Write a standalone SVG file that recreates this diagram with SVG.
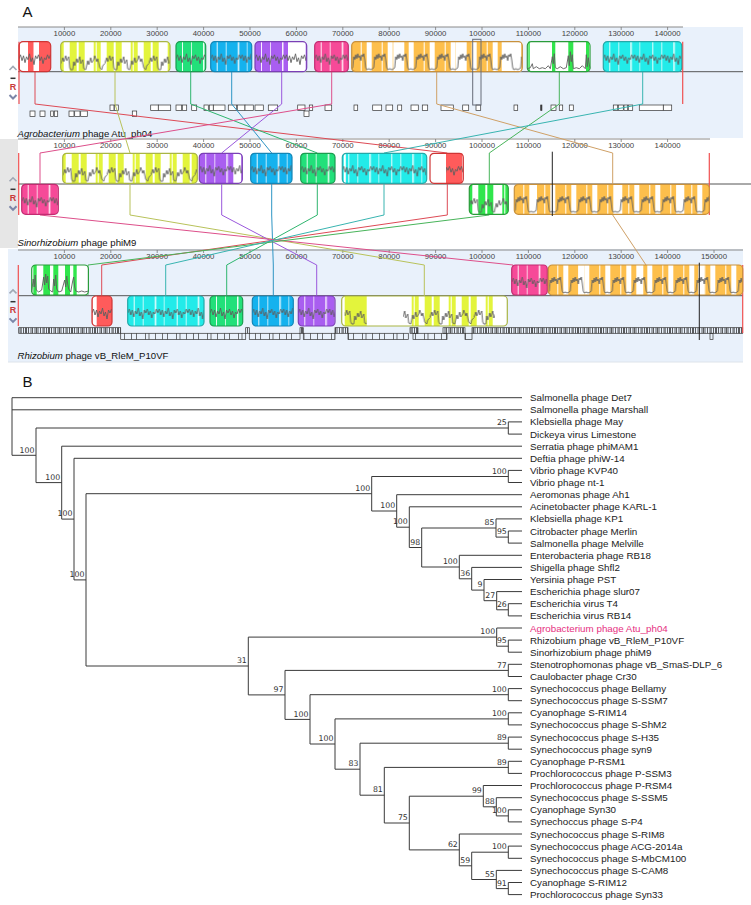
<svg xmlns="http://www.w3.org/2000/svg" xmlns:xlink="http://www.w3.org/1999/xlink" width="751" height="905" viewBox="0 0 751 905">
<style>
text{font-family:"Liberation Sans",Arial,sans-serif}
.big{font-size:15px;fill:#111}
.ruler{font-size:7.8px;fill:#444;text-anchor:middle}
.gname{font-size:9.6px;fill:#111}
.leaf{font-family:"DejaVu Sans",Verdana,sans-serif;font-size:9.8px;fill:#222}
.bs{font-family:"DejaVu Sans",Verdana,sans-serif;font-size:7.8px;fill:#333;text-anchor:end}
.tree{fill:none;stroke:#3a3a3a;stroke-width:1}
.axis{stroke:#8a8a8a;stroke-width:1;fill:none}
.tick{stroke:#777;stroke-width:0.8}
.ctr{stroke:#555;stroke-width:1}
.gene{fill:#fff;stroke:#333;stroke-width:0.7}
.lcb{fill:none;stroke-width:1}
.o{fill:none;stroke-width:1.2}
.w{fill:#fff}
.f-red{fill:#ff5b5b}.o-red{stroke:#cf3535}
.f-yel{fill:#e3f43c}.o-yel{stroke:#a9b545}
.f-sgr{fill:#22e07a}.o-sgr{stroke:#1c9c50}
.f-blu{fill:#14b2ee}.o-blu{stroke:#1486b6}
.f-pur{fill:#a95ef0}.o-pur{stroke:#7a3fb5}
.f-pnk{fill:#f64a98}.o-pnk{stroke:#c22c72}
.f-org{fill:#fdbf4c}.o-org{stroke:#c8913c}
.f-grn{fill:#30e64c}.o-grn{stroke:#2a9c3a}
.f-cyn{fill:#22ebe9}.o-cyn{stroke:#25a8a8}
.l-red{stroke:#dd4a55}.l-yel{stroke:#b8c25a}.l-sgr{stroke:#2fb56e}.l-blu{stroke:#2d95c4}.l-pur{stroke:#9a58dc}.l-pnk{stroke:#dd4f8a}.l-org{stroke:#cfa066}.l-grn{stroke:#48b45a}.l-cyn{stroke:#38b4b0}
.endl{stroke:#f05050;stroke-width:1.2}
.pl{fill:none;stroke:#5e5e5e;stroke-width:0.9}
</style>
<defs>
<pattern id="gapA" patternUnits="userSpaceOnUse" width="43" height="30">
<rect x="6" width="1" height="30" fill="#fff" opacity=".9"/><rect x="15" width="0.8" height="30" fill="#fff" opacity=".9"/><rect x="27" width="1.5" height="30" fill="#fff" opacity=".9"/><rect x="36" width="0.7" height="30" fill="#fff" opacity=".9"/>
</pattern>
<pattern id="gapB" patternUnits="userSpaceOnUse" width="37" height="30">
<rect x="3" width="6" height="30" fill="#fff"/><rect x="16" width="2" height="30" fill="#fff"/><rect x="24" width="9" height="30" fill="#fff"/><rect x="35" width="1" height="30" fill="#fff"/>
</pattern>
<pattern id="prof" patternUnits="userSpaceOnUse" width="30" height="30">
<path class="pl" d="M0,17 L1.5,13 L3,19 L4.5,14 L6,21 L7.5,15 L9,18 L10.5,12 L12,20 L13.5,16 L15,23 L16.5,14 L18,17 L19.5,13 L21,19 L22.5,15 L24,22 L25.5,16 L27,18 L28.5,13 L30,17"/>
</pattern>
<pattern id="profB" patternUnits="userSpaceOnUse" width="44" height="30">
<path class="pl" d="M0,22 L2,16 L3,20 L5,14 L6,19 L8,15 L9,26 L10,28 L12,28 L13,20 L14,24 L16,17 L17,21 L19,15 L20,22 L22,18 L23,27 L25,28 L27,19 L28,23 L30,16 L31,21 L33,18 L34,14 L36,20 L37,17 L39,26 L41,28 L42,24 L44,22"/>
</pattern>
<pattern id="hump" patternUnits="userSpaceOnUse" width="21" height="30">
<rect x="15" width="5" height="30" fill="#fff"/><rect x="9" width="1" height="30" fill="#fff"/>
<path class="pl" d="M0,27 L1,26 L2,15 L3,18 L4,13 L5,17 L6,12 L7,16 L8,14 L9,19 L10,13 L11,15 L12,12 L13,18 L14,26 L15,28 L17,27 L19,28 L21,27"/>
</pattern>
<pattern id="dense" patternUnits="userSpaceOnUse" width="23" height="10">
<path d="M0.5,0V10M2.5,0V10M3.5,0V10M5.5,0V10M8,0V10M9.5,0V10M12,0V10M13.5,0V10M15,0V10M17.5,0V10M20,0V10M21.2,0V10" stroke="#2a2a2a" stroke-width="0.75"/>
</pattern>
<pattern id="sparse" patternUnits="userSpaceOnUse" width="31" height="10">
<path d="M0.5,0V10M7.5,0V10M12.5,0V10M21.5,0V10M25,0V10" stroke="#333" stroke-width="0.7"/>
</pattern>
</defs>

<rect width="751" height="905" fill="#fff"/>

<!-- Panel A backgrounds -->
<g id="panelA-bg">
<rect x="18" y="27" width="725" height="111" fill="#e9f1fb"/>
<rect x="0" y="139" width="18" height="109" fill="#e6e6e6"/>
<rect x="8" y="249" width="735" height="113" fill="#e9f1fb"/>
<line x1="8" y1="362" x2="743" y2="362" stroke="#dde3ea"/>
</g>

<text id="label-A" class="big" x="22.5" y="16.7">A</text>
<text id="label-B" class="big" x="22.5" y="387.3">B</text>

<!-- Rulers -->
<g id="ruler1">
<line class="axis" x1="18" y1="27" x2="683" y2="27"/>
<path class="tick" d="M64.4,27v3M110.8,27v3M157.2,27v3M203.6,27v3M250,27v3M296.4,27v3M342.8,27v3M389.2,27v3M435.6,27v3M482,27v3M528.4,27v3M574.8,27v3M621.2,27v3M667.6,27v3"/>
<text class="ruler" x="64.4" y="36">10000</text><text class="ruler" x="110.8" y="36">20000</text><text class="ruler" x="157.2" y="36">30000</text><text class="ruler" x="203.6" y="36">40000</text><text class="ruler" x="250" y="36">50000</text><text class="ruler" x="296.4" y="36">60000</text><text class="ruler" x="342.8" y="36">70000</text><text class="ruler" x="389.2" y="36">80000</text><text class="ruler" x="435.6" y="36">90000</text><text class="ruler" x="482" y="36">100000</text><text class="ruler" x="528.4" y="36">110000</text><text class="ruler" x="574.8" y="36">120000</text><text class="ruler" x="621.2" y="36">130000</text><text class="ruler" x="667.6" y="36">140000</text>
<line class="ctr" x1="18" y1="71.7" x2="743" y2="71.7"/>
</g>
<g id="ruler2">
<line class="axis" x1="18" y1="139" x2="710" y2="139"/>
<path class="tick" d="M64.4,139v3M110.8,139v3M157.2,139v3M203.6,139v3M250,139v3M296.4,139v3M342.8,139v3M389.2,139v3M435.6,139v3M482,139v3M528.4,139v3M574.8,139v3M621.2,139v3M667.6,139v3"/>
<text class="ruler" x="64.4" y="147.6">10000</text><text class="ruler" x="110.8" y="147.6">20000</text><text class="ruler" x="157.2" y="147.6">30000</text><text class="ruler" x="203.6" y="147.6">40000</text><text class="ruler" x="250" y="147.6">50000</text><text class="ruler" x="296.4" y="147.6">60000</text><text class="ruler" x="342.8" y="147.6">70000</text><text class="ruler" x="389.2" y="147.6">80000</text><text class="ruler" x="435.6" y="147.6">90000</text><text class="ruler" x="482" y="147.6">100000</text><text class="ruler" x="528.4" y="147.6">110000</text><text class="ruler" x="574.8" y="147.6">120000</text><text class="ruler" x="621.2" y="147.6">130000</text><text class="ruler" x="667.6" y="147.6">140000</text>
<line class="ctr" x1="18" y1="184" x2="751" y2="184"/>
</g>
<g id="ruler3">
<line class="axis" x1="18" y1="250" x2="743" y2="250"/>
<path class="tick" d="M64.4,250v3M110.8,250v3M157.2,250v3M203.6,250v3M250,250v3M296.4,250v3M342.8,250v3M389.2,250v3M435.6,250v3M482,250v3M528.4,250v3M574.8,250v3M621.2,250v3M667.6,250v3M714,250v3"/>
<text class="ruler" x="64.4" y="259">10000</text><text class="ruler" x="110.8" y="259">20000</text><text class="ruler" x="157.2" y="259">30000</text><text class="ruler" x="203.6" y="259">40000</text><text class="ruler" x="250" y="259">50000</text><text class="ruler" x="296.4" y="259">60000</text><text class="ruler" x="342.8" y="259">70000</text><text class="ruler" x="389.2" y="259">80000</text><text class="ruler" x="435.6" y="259">90000</text><text class="ruler" x="482" y="259">100000</text><text class="ruler" x="528.4" y="259">110000</text><text class="ruler" x="574.8" y="259">120000</text><text class="ruler" x="621.2" y="259">130000</text><text class="ruler" x="667.6" y="259">140000</text><text class="ruler" x="714" y="259">150000</text>
<line class="ctr" x1="18" y1="295.7" x2="743" y2="295.7"/>
</g>

<!-- Controls -->
<g id="ctl1">
<polyline points="9.5,70 13,66.5 16.5,70" fill="none" stroke="#a0a8b4" stroke-width="1.6"/>
<line x1="10.5" y1="78.3" x2="15.5" y2="78.3" stroke="#333" stroke-width="1.5"/>
<text x="13" y="89.6" font-size="9" font-weight="bold" fill="#c93a3a" text-anchor="middle">R</text>
<polyline points="9.5,95 13,98.5 16.5,95" fill="none" stroke="#7c86a8" stroke-width="2"/>
</g>
<g id="ctl2">
<polyline points="9.5,181.3 13,177.8 16.5,181.3" fill="none" stroke="#a0a8b4" stroke-width="1.6"/>
<line x1="10.5" y1="189.3" x2="15.5" y2="189.3" stroke="#333" stroke-width="1.5"/>
<text x="13" y="200.9" font-size="9" font-weight="bold" fill="#c93a3a" text-anchor="middle">R</text>
<polyline points="9.5,206.3 13,209.8 16.5,206.3" fill="none" stroke="#7c86a8" stroke-width="2"/>
</g>
<g id="ctl3">
<polyline points="9.5,293.4 13,289.9 16.5,293.4" fill="none" stroke="#a0a8b4" stroke-width="1.6"/>
<line x1="10.5" y1="301.7" x2="15.5" y2="301.7" stroke="#333" stroke-width="1.5"/>
<text x="13" y="313" font-size="9" font-weight="bold" fill="#c93a3a" text-anchor="middle">R</text>
<polyline points="9.5,318.4 13,321.9 16.5,318.4" fill="none" stroke="#7c86a8" stroke-width="2"/>
</g>

<!-- Genome names -->
<text id="name-atu" class="gname" x="17.5" y="136.6"><tspan font-style="italic">Agrobacterium</tspan> phage Atu_ph04</text>
<text id="name-phim9" class="gname" x="17.5" y="245.6"><tspan font-style="italic">Sinorhizobium</tspan> phage phiM9</text>
<text id="name-p10vf" class="gname" x="17.5" y="358.8"><tspan font-style="italic">Rhizobium</tspan> phage vB_RleM_P10VF</text>

<!-- Gene features genome 1 -->
<g id="genes-atu" class="gene">
<rect x="110" y="105" width="4" height="5.5"/><rect x="114.3" y="105" width="4" height="5.5"/><rect x="150.7" y="105" width="7.6" height="5.5"/><rect x="158.3" y="105" width="12.4" height="5.5"/><rect x="176" y="105" width="5.7" height="5.5"/><rect x="182.3" y="105" width="4.4" height="5.5"/><rect x="191.7" y="105" width="5" height="5.5"/><rect x="204" y="105" width="4.3" height="5.5"/><rect x="209.3" y="105" width="4" height="5.5"/><rect x="213.3" y="105" width="11.7" height="5.5"/><rect x="228.3" y="105" width="8.4" height="5.5"/><rect x="237.3" y="105" width="7.7" height="5.5"/><rect x="245" y="105" width="8.3" height="5.5"/><rect x="255" y="105" width="8.3" height="5.5"/><rect x="268.3" y="105" width="9.4" height="5.5"/><rect x="297.7" y="105" width="7.3" height="5.5"/><rect x="309.3" y="105" width="3.4" height="5.5"/><rect x="325" y="105" width="6.7" height="5.5"/><rect x="354" y="105" width="3.7" height="5.5"/><rect x="372.7" y="105" width="9" height="5.5"/><rect x="386" y="105" width="6.7" height="5.5"/><rect x="397.7" y="105" width="4" height="5.5"/><rect x="411" y="105" width="7.3" height="5.5"/><rect x="422.3" y="105" width="5.4" height="5.5"/><rect x="441" y="105" width="12.3" height="5.5"/><rect x="462.7" y="105" width="6" height="5.5"/><rect x="476" y="105" width="4.7" height="5.5"/><rect x="514" y="105" width="3.7" height="5.5"/><rect x="540.7" y="105" width="1.2" height="5.5" fill="#333"/><rect x="551" y="105" width="5" height="5.5"/><rect x="559.3" y="105" width="3.4" height="5.5"/><rect x="569.3" y="105" width="4" height="5.5"/><rect x="613.3" y="105" width="4.4" height="5.5"/><rect x="618.3" y="105" width="5" height="5.5"/><rect x="624" y="105" width="3.7" height="5.5"/><rect x="628.3" y="105" width="4.4" height="5.5"/><rect x="639.3" y="105" width="24" height="5.5"/><rect x="663.3" y="105" width="8.4" height="5.5"/>
<rect x="30" y="111" width="5" height="5.5"/><rect x="40" y="111" width="5" height="5.5"/><rect x="50.7" y="111" width="2.6" height="5.5"/><rect x="54.3" y="111" width="3.4" height="5.5"/><rect x="69" y="111" width="5" height="5.5"/><rect x="74.7" y="111" width="5.3" height="5.5"/><rect x="80.7" y="111" width="6.6" height="5.5"/><rect x="132.3" y="111" width="4.4" height="5.5"/><rect x="304" y="111" width="5" height="5.5"/>
</g>

<!-- Gene features genome 3 -->
<g id="genes-p10vf" stroke="#333" stroke-width="0.7">
<g fill="url(#dense)">
<rect x="18.7" y="327.7" width="102" height="5.6"/><rect x="245.7" y="327.7" width="3.6" height="5.6"/><rect x="300" y="327.7" width="3.3" height="5.6"/><rect x="335" y="327.7" width="13" height="5.6"/><rect x="410" y="327.7" width="8" height="5.6"/><rect x="443" y="327.7" width="22" height="5.6"/><rect x="472" y="327.7" width="270.7" height="5.6"/>
</g>
<g fill="url(#sparse)">
<rect x="120.7" y="333.3" width="125" height="6.2"/><rect x="249.3" y="333.3" width="50.7" height="6.2"/><rect x="303.3" y="333.3" width="31.7" height="6.2"/><rect x="348" y="333.3" width="60.3" height="6.2"/><rect x="413" y="333.3" width="34" height="6.2"/><rect x="465" y="333.3" width="7" height="6.2"/><rect x="710" y="333.3" width="3" height="6.2"/>
</g>
</g>

<!-- Genome end markers -->
<g id="ends">
<line class="endl" x1="19" y1="41.7" x2="19" y2="104"/><line class="endl" x1="682.7" y1="41.7" x2="682.7" y2="104"/>
<line class="endl" x1="18.7" y1="153" x2="18.7" y2="215"/><line class="endl" x1="709.3" y1="153" x2="709.3" y2="215"/>
<line class="endl" x1="18.3" y1="265" x2="18.3" y2="326"/><line class="endl" x1="742.7" y1="265" x2="742.7" y2="333"/>
</g>

<!-- Connectors -->
<g id="connectors" class="lcb">
<path class="l-red" d="M35,41.7 V104 L447.3,153 V215 L101.7,265 V296"/>
<path class="l-yel" d="M115,41.7 V104 L130,153 V215 L424.3,265 V296"/>
<path class="l-sgr" d="M190.7,41.7 V104 L317.3,153 V215 L226.7,265 V296"/>
<path class="l-blu" d="M231.7,41.7 V104 L271.7,153 V215 L273.3,265 V296"/>
<path class="l-pur" d="M281.7,41.7 V104 L221.7,153 V215 L316.7,265 V296"/>
<path class="l-pnk" d="M331.7,41.7 V104 L40,153 V215 L513,265 V295"/>
<path class="l-org" d="M436.7,41.7 V104 L612.7,153 V215 L646,265 V295"/>
<path class="l-grn" d="M559.3,41.7 V104 L489.3,153 V215 L88,265 V295"/>
<path class="l-cyn" d="M642.7,41.7 V104 L384,153 V215 L165.7,265 V296"/>
</g>

<!-- Genome 1 blocks -->
<g id="g1-red" transform="translate(19,41.7)"><rect class="f-red" width="31.7" height="30" rx="4"/><rect class="w" x="1" width="8" height="30"/><rect class="w" x="14.5" width="5.5" height="30"/><rect width="31.7" height="30" fill="url(#prof)"/><rect class="o o-red" width="31.7" height="30" rx="4"/></g>
<g id="g1-yel" transform="translate(60.7,41.7)"><rect class="f-yel" width="109.3" height="30" rx="4"/><rect width="109.3" height="30" fill="url(#gapB)"/><rect width="109.3" height="30" fill="url(#profB)"/><rect class="o o-yel" width="109.3" height="30" rx="4"/></g>
<g id="g1-sgr" transform="translate(176,41.7)"><rect class="f-sgr" width="29.7" height="30" rx="4"/><rect width="29.7" height="30" fill="url(#gapA)"/><rect width="29.7" height="30" fill="url(#prof)"/><rect class="o o-sgr" width="29.7" height="30" rx="4"/></g>
<g id="g1-blu" transform="translate(210.7,41.7)"><rect class="f-blu" width="41" height="30" rx="4"/><rect width="41" height="30" fill="url(#gapA)"/><rect width="41" height="30" fill="url(#prof)"/><rect class="o o-blu" width="41" height="30" rx="4"/></g>
<g id="g1-pur" transform="translate(255,41.7)"><rect class="f-pur" width="51.7" height="30" rx="4"/><rect width="51.7" height="30" fill="url(#gapA)"/><rect class="w" x="33" width="17.7" height="30"/><rect width="51.7" height="30" fill="url(#prof)"/><rect class="o o-pur" width="51.7" height="30" rx="4"/></g>
<g id="g1-pnk" transform="translate(314.7,41.7)"><rect class="f-pnk" width="33.6" height="30" rx="4"/><rect width="33.6" height="30" fill="url(#gapA)"/><rect width="33.6" height="30" fill="url(#prof)"/><rect class="o o-pnk" width="33.6" height="30" rx="4"/></g>
<g id="g1-org" transform="translate(351.7,41.7)"><rect class="f-org" width="170.6" height="30" rx="4"/><rect class="w" x="41.6" width="11" height="30"/><rect class="w" x="104.3" width="10" height="30"/><rect class="w" x="150" width="19.6" height="30"/><rect width="170.6" height="30" fill="url(#hump)"/><rect class="o o-org" width="170.6" height="30" rx="4"/></g>
<g id="g1-grn" transform="translate(527.3,41.7)"><rect class="w" width="62.7" height="30" rx="4"/><rect class="f-grn" x="1" width="1.5" height="30"/><rect class="f-grn" x="24.7" width="3.3" height="30"/><rect class="f-grn" x="41" width="5" height="30"/><rect class="f-grn" x="58.7" width="3" height="30"/><path class="pl" d="M0,27 L3,26 L5,22 L6,27 L9,25 L12,27 L15,26 L18,27 L21,24 L23,27 L25,15 L26,22 L27,12 L28,26 L30,27 L33,25 L36,27 L39,26 L41,14 L42,24 L43,10 L44,20 L45,13 L46,27 L49,26 L52,27 L55,24 L58,27 L59,13 L60,25 L61,16 L62.7,27"/><rect class="o o-grn" width="62.7" height="30" rx="4"/></g>
<g id="g1-cyn" transform="translate(603.3,41.7)"><rect class="f-cyn" width="78.4" height="30" rx="4"/><rect width="78.4" height="30" fill="url(#gapA)"/><rect width="78.4" height="30" fill="url(#prof)"/><rect class="o o-cyn" width="78.4" height="30" rx="4"/></g>

<!-- Genome 2 blocks -->
<g id="g2-yel" transform="translate(62.7,153.3)"><rect class="f-yel" width="134.6" height="30" rx="4"/><rect width="134.6" height="30" fill="url(#gapB)"/><rect width="134.6" height="30" fill="url(#profB)"/><rect class="o o-yel" width="134.6" height="30" rx="4"/></g>
<g id="g2-pur" transform="translate(199.3,153.3)"><rect class="f-pur" width="43" height="30" rx="4"/><rect width="43" height="30" fill="url(#gapA)"/><rect class="w" x="34" width="8" height="30"/><rect width="43" height="30" fill="url(#prof)"/><rect class="o o-pur" width="43" height="30" rx="4"/></g>
<g id="g2-blu" transform="translate(250.7,153.3)"><rect class="f-blu" width="41.3" height="30" rx="4"/><rect width="41.3" height="30" fill="url(#gapA)"/><rect width="41.3" height="30" fill="url(#prof)"/><rect class="o o-blu" width="41.3" height="30" rx="4"/></g>
<g id="g2-sgr" transform="translate(300.7,153.3)"><rect class="f-sgr" width="34.3" height="30" rx="4"/><rect width="34.3" height="30" fill="url(#gapA)"/><rect width="34.3" height="30" fill="url(#prof)"/><rect class="o o-sgr" width="34.3" height="30" rx="4"/></g>
<g id="g2-cyn" transform="translate(342.3,153.3)"><rect class="f-cyn" width="84.4" height="30" rx="4"/><rect width="84.4" height="30" fill="url(#gapA)"/><rect class="w" x="1.5" width="2" height="30"/><rect width="84.4" height="30" fill="url(#prof)"/><rect class="o o-cyn" width="84.4" height="30" rx="4"/></g>
<g id="g2-red" transform="translate(430,153.3)"><rect class="w" width="33.3" height="30" rx="4"/><rect class="f-red" x="16" width="16.3" height="30"/><rect x="16" width="17.3" height="30" fill="url(#prof)"/><rect class="o o-red" width="33.3" height="30" rx="4"/></g>
<g id="g2-pnk" transform="translate(21.7,184.3)"><rect class="f-pnk" width="36.6" height="30" rx="4"/><rect width="36.6" height="30" fill="url(#gapA)"/><rect width="36.6" height="30" fill="url(#prof)"/><rect class="o o-pnk" width="36.6" height="30" rx="4"/></g>
<g id="g2-grn" transform="translate(469.3,184.3)"><rect class="f-grn" width="39" height="30" rx="4"/><rect width="39" height="30" fill="url(#gapB)"/><rect width="39" height="30" fill="url(#profB)"/><rect class="o o-grn" width="39" height="30" rx="4"/></g>
<g id="g2-org" transform="translate(514.3,184.3)"><rect class="f-org" width="195" height="30" rx="4"/><rect class="w" x="17.7" width="5" height="30"/><rect class="w" x="100" width="8" height="30"/><rect class="w" x="162" width="8" height="30"/><rect width="195" height="30" fill="url(#hump)"/><rect class="o o-org" width="195" height="30" rx="4"/></g>

<!-- Genome 3 blocks -->
<g id="g3-grn" transform="translate(31.7,265)"><rect class="w" width="56.7" height="30" rx="4"/><rect class="f-grn" x="1.6" width="3.4" height="30"/><rect class="f-grn" x="11.6" width="6.7" height="30"/><rect class="f-grn" x="21.6" width="5" height="30"/><rect class="f-grn" x="33.3" width="5" height="30"/><rect class="f-grn" x="41.6" width="3.4" height="30"/><path class="pl" d="M0,27 L1.5,14 L2.5,22 L3.5,10 L4.5,25 L7,27 L10,25 L12,12 L13,20 L14,9 L15,18 L16,11 L17,24 L19,26 L21,27 L22,14 L23,21 L24,10 L25,24 L27,27 L30,26 L33,15 L34,22 L35,11 L36,19 L37,24 L39,27 L41,16 L42,12 L43,22 L44,26 L47,27 L50,26 L53,27 L56.7,26"/><rect class="o o-grn" width="56.7" height="30" rx="4"/></g>
<g id="g3-pnk" transform="translate(511.7,265)"><rect class="f-pnk" width="35.6" height="30" rx="4"/><rect width="35.6" height="30" fill="url(#gapA)"/><rect width="35.6" height="30" fill="url(#prof)"/><rect class="o o-pnk" width="35.6" height="30" rx="4"/></g>
<g id="g3-org" transform="translate(548.3,265)"><rect class="f-org" width="194.4" height="30" rx="4"/><rect class="w" x="30" width="6" height="30"/><rect class="w" x="88" width="7" height="30"/><rect class="w" x="150" width="6" height="30"/><rect width="194.4" height="30" fill="url(#hump)"/><rect class="o o-org" width="194.4" height="30" rx="4"/></g>
<g id="g3-red" transform="translate(92,296)"><rect class="f-red" width="20" height="30" rx="4"/><rect class="w" x="0.6" width="4.1" height="30"/><rect width="20" height="30" fill="url(#prof)"/><rect class="o o-red" width="20" height="30" rx="4"/></g>
<g id="g3-cyn" transform="translate(127.7,296)"><rect class="f-cyn" width="76.3" height="30" rx="4"/><rect width="76.3" height="30" fill="url(#gapA)"/><rect width="76.3" height="30" fill="url(#prof)"/><rect class="o o-cyn" width="76.3" height="30" rx="4"/></g>
<g id="g3-sgr" transform="translate(210,296)"><rect class="f-sgr" width="32.7" height="30" rx="4"/><rect width="32.7" height="30" fill="url(#gapA)"/><rect width="32.7" height="30" fill="url(#prof)"/><rect class="o o-sgr" width="32.7" height="30" rx="4"/></g>
<g id="g3-blu" transform="translate(252.3,296)"><rect class="f-blu" width="41" height="30" rx="4"/><rect width="41" height="30" fill="url(#gapA)"/><rect width="41" height="30" fill="url(#prof)"/><rect class="o o-blu" width="41" height="30" rx="4"/></g>
<g id="g3-pur" transform="translate(298.3,296)"><rect class="f-pur" width="36.7" height="30" rx="4"/><rect width="36.7" height="30" fill="url(#gapA)"/><rect width="36.7" height="30" fill="url(#prof)"/><rect class="o o-pur" width="36.7" height="30" rx="4"/></g>
<g id="g3-yel" transform="translate(341.7,296)"><rect class="w" width="165.6" height="30" rx="4"/><rect class="f-yel" x="3" width="22" height="30"/><rect class="f-yel" x="61.3" width="92" height="30"/><rect x="61.3" width="92" height="30" fill="url(#gapB)"/><rect x="3" width="22" height="30" fill="url(#profB)"/><rect x="61.3" width="92" height="30" fill="url(#profB)"/><rect class="o o-yel" width="165.6" height="30" rx="4"/></g>

<!-- Position markers -->
<g id="markers">
<rect x="472.7" y="39.3" width="8.3" height="65.7" fill="none" stroke="#666c78" stroke-width="1"/>
<line x1="552.3" y1="151.7" x2="552.3" y2="216" stroke="#222" stroke-width="1"/>
<line x1="699.3" y1="262.7" x2="699.3" y2="340" stroke="#222" stroke-width="1"/>
</g>

<!-- Panel B: tree -->
<g id="tree-edges" class="tree">
<path d="M12,397.7H522M12,409.8H522M508.3,421.9H522M508.3,434.1H522M61.7,446.2H522M74,458.3H522M508.3,470.4H522M508.3,482.5H522M396.7,494.7H522M409.3,506.8H522M496,518.9H522M508.3,531H522M508.3,543.1H522M459.3,555.3H522M471.7,567.4H522M484,579.5H522M496.7,591.6H522M508.3,603.7H522M508.3,615.9H522M496.7,628H522M508.3,640.1H522M508.3,652.2H522M508.3,664.3H522M508.3,676.5H522M508.3,688.6H522M508.3,700.7H522M508.3,712.8H522M508.3,724.9H522M508.3,737.1H522M508.3,749.2H522M508.3,761.3H522M508.3,773.4H522M483.3,785.5H522M496.3,797.7H522M508.3,809.8H522M508.3,821.9H522M459.3,834H522M508.3,846.1H522M508.3,858.3H522M496.3,870.4H522M508.3,882.5H522M508.3,894.6H522"/>
<path d="M12,397.7V455.3M36,428V482.6M61.7,446.2V519.1M74,458.3V579.9M86,493.7V666M371.7,476.5V511M396.7,494.7V527.2M409.3,506.8V547.5M421.7,528V567M496,518.9V537.1M459.3,555.3V578.8M471.7,567.4V590.1M484,579.5V600.7M496.7,591.6V609.8M248.3,637.1V694.9M496.7,628V646.2M285,670.4V719.4M310,694.7V744M335,718.9V769.2M360,743.2V795.2M384.3,767.4V823M409.3,796.2V849.9M483.3,785.5V806.8M496.3,797.7V815.9M459.3,834V865.8M471.7,852.2V879.5M496.3,870.4V888.6"/>
<path d="M508.3,421.9V434.1M508.3,470.4V482.5M508.3,531V543.1M508.3,603.7V615.9M508.3,640.1V652.2M508.3,664.3V676.5M508.3,688.6V700.7M508.3,712.8V724.9M508.3,737.1V749.2M508.3,761.3V773.4M508.3,809.8V821.9M508.3,846.1V858.3M508.3,882.5V894.6"/>
<path d="M12,455.3H36M36,428H508.3M36,482.6H61.7M61.7,519.1H74M74,579.9H86M86,493.7H371.7M86,666H248.3M371.7,476.5H508.3M371.7,511H396.7M396.7,527.2H409.3M409.3,547.5H421.7M421.7,528H496M421.7,567H459.3M496,537.1H508.3M459.3,578.8H471.7M471.7,590.1H484M484,600.7H496.7M496.7,609.8H508.3M248.3,637.1H496.7M496.7,646.2H508.3M248.3,694.9H285M285,670.4H508.3M285,719.4H310M310,694.7H508.3M310,744H335M335,718.9H508.3M335,769.2H360M360,743.2H508.3M360,795.2H384.3M384.3,767.4H508.3M384.3,823H409.3M409.3,796.2H483.3M409.3,849.9H459.3M483.3,806.8H496.3M496.3,815.9H508.3M459.3,865.8H471.7M471.7,852.2H508.3M471.7,879.5H496.3M496.3,888.6H508.3"/>
</g>

<g id="bootstrap">
<text class="bs" x="34.5" y="452.5">100</text>
<text class="bs" x="60.2" y="479.8">100</text>
<text class="bs" x="72.5" y="516.3">100</text>
<text class="bs" x="84.5" y="577.1">100</text>
<text class="bs" x="370.2" y="490.9">100</text>
<text class="bs" x="506.8" y="425.2">25</text>
<text class="bs" x="506.8" y="473.7">100</text>
<text class="bs" x="395.2" y="508.2">100</text>
<text class="bs" x="407.8" y="524.4">100</text>
<text class="bs" x="420.2" y="544.7">98</text>
<text class="bs" x="494.5" y="525.2">85</text>
<text class="bs" x="506.8" y="534.3">95</text>
<text class="bs" x="457.8" y="564.2">100</text>
<text class="bs" x="470.2" y="576">36</text>
<text class="bs" x="482.5" y="587.3">9</text>
<text class="bs" x="495.2" y="597.9">27</text>
<text class="bs" x="506.8" y="607">26</text>
<text class="bs" x="246.8" y="663.2">31</text>
<text class="bs" x="495.2" y="634.3">100</text>
<text class="bs" x="506.8" y="643.4">95</text>
<text class="bs" x="283.5" y="692.1">97</text>
<text class="bs" x="506.8" y="667.6">77</text>
<text class="bs" x="308.5" y="716.6">100</text>
<text class="bs" x="506.8" y="691.9">100</text>
<text class="bs" x="333.5" y="741.2">100</text>
<text class="bs" x="506.8" y="716.1">100</text>
<text class="bs" x="358.5" y="766.4">83</text>
<text class="bs" x="506.8" y="740.4">89</text>
<text class="bs" x="382.8" y="792.4">81</text>
<text class="bs" x="506.8" y="764.6">89</text>
<text class="bs" x="407.8" y="820.2">75</text>
<text class="bs" x="481.8" y="793.4">99</text>
<text class="bs" x="494.8" y="804">88</text>
<text class="bs" x="506.8" y="813.1">100</text>
<text class="bs" x="457.8" y="847.1">62</text>
<text class="bs" x="470.2" y="863">59</text>
<text class="bs" x="506.8" y="849.4">100</text>
<text class="bs" x="494.8" y="876.7">55</text>
<text class="bs" x="506.8" y="885.8">91</text>
</g>

<g id="leaves" class="leaf">
<g id="leaf-det7"><text x="530" y="401.2">Salmonella phage Det7</text></g>
<g id="leaf-marshall"><text x="530" y="413.3">Salmonella phage Marshall</text></g>
<g id="leaf-may"><text x="530" y="425.4">Klebsiella phage May</text></g>
<g id="leaf-limestone"><text x="530" y="437.6">Dickeya virus Limestone</text></g>
<g id="leaf-phimam1"><text x="530" y="449.7">Serratia phage phiMAM1</text></g>
<g id="leaf-phiw14"><text x="530" y="461.8">Deftia phage phiW-14</text></g>
<g id="leaf-kvp40"><text x="530" y="473.9">Vibrio phage KVP40</text></g>
<g id="leaf-nt1"><text x="530" y="486">Vibrio phage nt-1</text></g>
<g id="leaf-ah1"><text x="530" y="498.2">Aeromonas phage Ah1</text></g>
<g id="leaf-karl1"><text x="530" y="510.3">Acinetobacter phage KARL-1</text></g>
<g id="leaf-kp1"><text x="530" y="522.4">Klebsiella phage KP1</text></g>
<g id="leaf-merlin"><text x="530" y="534.5">Citrobacter phage Merlin</text></g>
<g id="leaf-melville"><text x="530" y="546.6">Salmonella phage Melville</text></g>
<g id="leaf-rb18"><text x="530" y="558.8">Enterobacteria phage RB18</text></g>
<g id="leaf-shfl2"><text x="530" y="570.9">Shigella phage Shfl2</text></g>
<g id="leaf-pst"><text x="530" y="583">Yersinia phage PST</text></g>
<g id="leaf-slur07"><text x="530" y="595.1">Escherichia phage slur07</text></g>
<g id="leaf-t4"><text x="530" y="607.2">Escherichia virus T4</text></g>
<g id="leaf-rb14"><text x="530" y="619.4">Escherichia virus RB14</text></g>
<g id="leaf-atu"><text x="530" y="631.5" fill="#e6307f">Agrobacterium phage Atu_ph04</text></g>
<g id="leaf-p10vf"><text x="530" y="643.6">Rhizobium phage vB_RleM_P10VF</text></g>
<g id="leaf-phim9"><text x="530" y="655.7">Sinorhizobium phage phiM9</text></g>
<g id="leaf-dlp6"><text x="530" y="667.8">Stenotrophomonas phage vB_SmaS-DLP_6</text></g>
<g id="leaf-cr30"><text x="530" y="680">Caulobacter phage Cr30</text></g>
<g id="leaf-bellamy"><text x="530" y="692.1">Synechococcus phage Bellamy</text></g>
<g id="leaf-sssm7"><text x="530" y="704.2">Synechococcus phage S-SSM7</text></g>
<g id="leaf-srim14"><text x="530" y="716.3">Cyanophage S-RIM14</text></g>
<g id="leaf-sshm2"><text x="530" y="728.4">Synechococcus phage S-ShM2</text></g>
<g id="leaf-sh35"><text x="530" y="740.6">Synechococcus phage S-H35</text></g>
<g id="leaf-syn9"><text x="530" y="752.7">Synechococcus phage syn9</text></g>
<g id="leaf-prsm1"><text x="530" y="764.8">Cyanophage P-RSM1</text></g>
<g id="leaf-pssm3"><text x="530" y="776.9">Prochlorococcus phage P-SSM3</text></g>
<g id="leaf-prsm4"><text x="530" y="789">Prochlorococcus phage P-RSM4</text></g>
<g id="leaf-sssm5"><text x="530" y="801.2">Synechococcus phage S-SSM5</text></g>
<g id="leaf-syn30"><text x="530" y="813.3">Cyanophage Syn30</text></g>
<g id="leaf-sp4"><text x="530" y="825.4">Synechoccus phage S-P4</text></g>
<g id="leaf-srim8"><text x="530" y="837.5">Synechococcus phage S-RIM8</text></g>
<g id="leaf-acg"><text x="530" y="849.6">Synechococcus phage ACG-2014a</text></g>
<g id="leaf-mbcm100"><text x="530" y="861.8">Synechococcus phage S-MbCM100</text></g>
<g id="leaf-scam8"><text x="530" y="873.9">Synechococcus phage S-CAM8</text></g>
<g id="leaf-srim12"><text x="530" y="886">Cyanophage S-RIM12</text></g>
<g id="leaf-syn33"><text x="530" y="898.1">Prochlorococcus phage Syn33</text></g>
</g>
</svg>
